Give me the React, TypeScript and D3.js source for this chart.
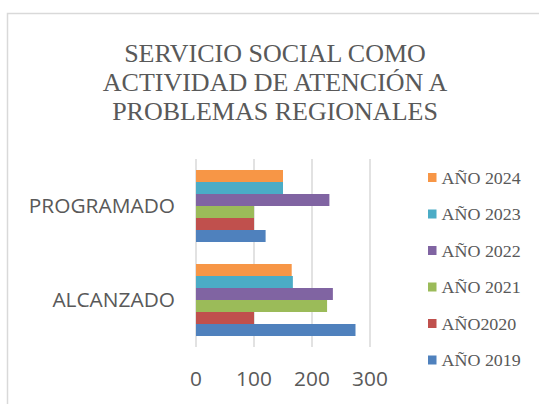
import React from "react";
import * as d3 from "d3";

const categories = ["PROGRAMADO", "ALCANZADO"];
const seriesNames = ["AÑO 2019", "AÑO2020", "AÑO 2021", "AÑO 2022", "AÑO 2023", "AÑO 2024"];
const seriesColors = ["#4F81BD", "#C0504D", "#9BBB59", "#8064A2", "#4BACC6", "#F79646"];
const programado = [120, 100, 100, 230, 150, 150];
const alcanzado = [275, 100, 226, 236, 167, 165];
const xTicks = [0, 100, 200, 300];
const titleLines = ["SERVICIO SOCIAL COMO", "ACTIVIDAD DE ATENCIÓN A", "PROBLEMAS REGIONALES"];

const values: Record<string, number[]> = { PROGRAMADO: programado, ALCANZADO: alcanzado };

function T(props: {
  x: number;
  y: number;
  sx?: number;
  anchor?: "start" | "middle" | "end";
  family: string;
  size: number;
  children: React.ReactNode;
}) {
  return (
    <text
      transform={`translate(${props.x},${props.y}) scale(${props.sx ?? 1.07},1)`}
      textAnchor={props.anchor || "start"}
      fontFamily={props.family}
      fontSize={props.size}
      fill="#595959"
    >
      {props.children}
    </text>
  );
}

export default function App() {
  const W = 539, H = 404;
  const x = d3.scaleLinear().domain([0, 300]).range([196, 370]);
  const y = d3.scaleBand<string>().domain(categories).range([159, 347]).paddingInner(0.234).paddingOuter(0.117);
  const inner = d3
    .scaleBand<string>()
    .domain([...seriesNames].reverse())
    .range([0, y.bandwidth()]);
  const legendOrder = [...seriesNames].reverse();
  const titleY = [62, 91, 120];
  const serif = "'Liberation Serif', 'Times New Roman', serif";
  const sans = "'Open Sans', sans-serif";

  return (
    <svg width={W} height={H} style={{ position: "absolute", left: 0, top: 0 }}>
      <rect x={0} y={0} width={W} height={H} fill="#fff" />
      <rect x={7.5} y={13.5} width={540} height={400} fill="none" stroke="#d9d9d9" strokeWidth={1.5} />
      {titleLines.map((t, i) => (
        <T key={t} x={275} y={titleY[i]} sx={1} anchor="middle" family={serif} size={26}>
          {t}
        </T>
      ))}
      {xTicks.map((t) => (
        <line key={"g" + t} x1={x(t)} x2={x(t)} y1={159} y2={347} stroke="#d9d9d9" strokeWidth={1.5} />
      ))}
      {categories.map((c) =>
        seriesNames.map((s, i) => (
          <rect
            key={c + s}
            x={x(0)}
            y={(y(c) as number) + (inner(s) as number)}
            width={x(values[c][i]) - x(0)}
            height={inner.bandwidth()}
            fill={seriesColors[i]}
          />
        ))
      )}
      {categories.map((c) => (
        <T key={"l" + c} x={175} y={(y(c) as number) + y.bandwidth() / 2 + 6.5} anchor="end" family={sans} size={19.5}>
          {c}
        </T>
      ))}
      {xTicks.map((t) => (
        <T key={"t" + t} x={x(t)} y={386} anchor="middle" family={sans} size={19.5}>
          {t}
        </T>
      ))}
      {legendOrder.map((s, i) => {
        const idx = seriesNames.indexOf(s);
        const by = 183.5 + i * 36.5;
        return (
          <g key={"lg" + s}>
            <rect x={428} y={by - 10.5} width={8.5} height={9} fill={seriesColors[idx]} />
            <T x={441.5} y={by} family={serif} size={16.8}>
              {s}
            </T>
          </g>
        );
      })}
    </svg>
  );
}
